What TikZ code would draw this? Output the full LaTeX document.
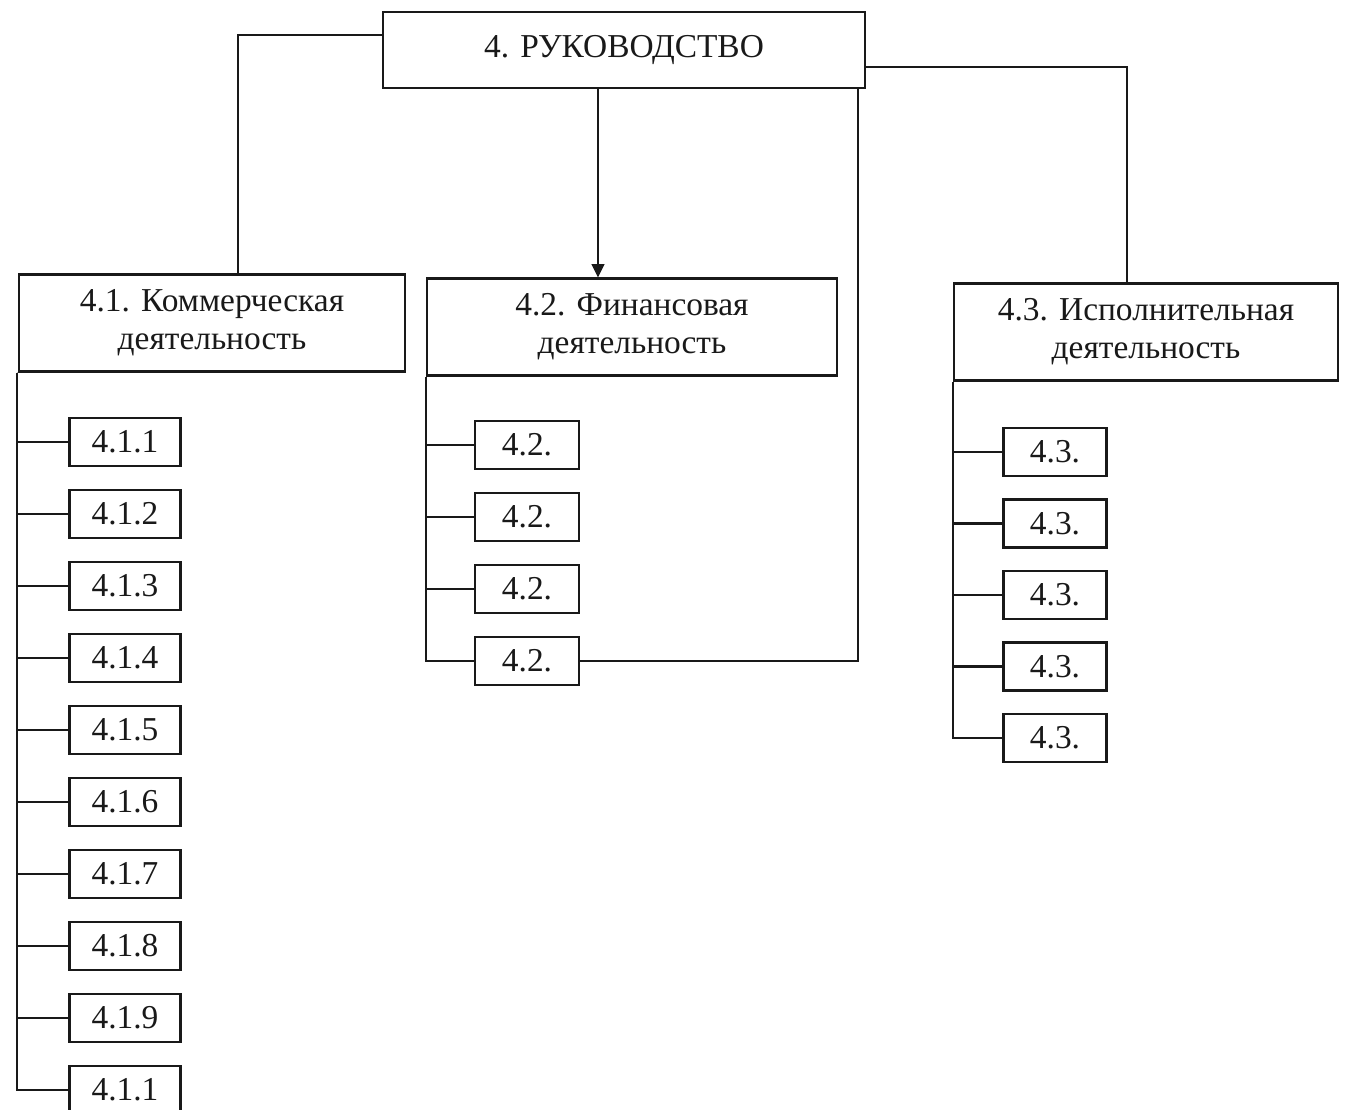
\documentclass[tikz,border=0pt]{standalone}
\usepackage{fontspec}
\setmainfont{Liberation Serif}
\usepackage{tikz}
\usetikzlibrary{arrows.meta,positioning}
\definecolor{orgink}{RGB}{25,25,25}
\tikzset{
  orgtext/.style ={font=\fontsize{9.5}{10.8}\selectfont, text=orgink},
  orgtop/.style  ={rectangle, draw=orgink, line width=0.6pt, orgtext,
                   minimum width=4.82cm, minimum height=0.76cm, inner sep=0pt},
  orgdept/.style ={rectangle, draw=orgink, line width=0.6pt, orgtext, align=center,
                   minimum height=0.97cm, inner sep=0pt},
  orgitem/.style ={rectangle, draw=orgink, line width=0.6pt, orgtext,
                   minimum height=0.48cm, inner sep=0pt},
  orgline/.style ={line width=0.6pt, orgink},
  orgarrow/.style={orgline, -{Triangle[length=3.8pt, width=3.6pt]}},
}
\begin{document}
\begin{tikzpicture}[x=0.01cm, y=-0.01cm]
  \clip (0,0) rectangle (1346,1110);
  % top and the three departments
  \node[orgtop] (top) at (624,50) {4. РУКОВОДСТВО};
  \node[orgdept, minimum width=3.85cm] (d1) at (212,323) {4.1. Коммерческая\\деятельность};
  \node[orgdept, minimum width=4.09cm] (d2) at (632,327) {4.2. Финансовая\\деятельность};
  \node[orgdept, minimum width=3.83cm] (d3) at (1146,332) {4.3. Исполнительная\\деятельность};
  \coordinate (jl) at (238,35);
  \coordinate (jr) at (1127,67);
  \coordinate (jm) at (598,0);
  \coordinate (jb) at (858,0);
  \draw[orgline] (jl -| top.west) -| (jl |- d1.north);
  \draw[orgline] (jr -| top.east) -| (jr |- d3.north);
  \draw[orgarrow] (jm |- top.south) -- (jm |- d2.north);
  % items of 4.1
  \coordinate (v1) at (17,0);
  \foreach \i/\lab in {1/4.1.1,2/4.1.2,3/4.1.3,4/4.1.4,5/4.1.5,
                       6/4.1.6,7/4.1.7,8/4.1.8,9/4.1.9,10/4.1.1}{
    \node[orgitem, minimum width=1.11cm] (d1i\i) at (125,370+72*\i) {\lab};
    \draw[orgline] (v1 |- d1.south) |- (d1i\i.west);
  }
  % items of 4.2
  \coordinate (v2) at (426,0);
  \foreach \i in {1,...,4}{
    \node[orgitem, minimum width=1.04cm] (d2i\i) at (527,373+72*\i) {4.2.};
    \draw[orgline] (v2 |- d2.south) |- (d2i\i.west);
  }
  \draw[orgline] (d2i4.east) -| (jb |- top.south);
  % items of 4.3
  \coordinate (v3) at (953,0);
  \foreach \i in {1,...,5}{
    \node[orgitem, minimum width=1.03cm] (d3i\i) at (1055,380.5+71.5*\i) {4.3.};
    \draw[orgline] (v3 |- d3.south) |- (d3i\i.west);
  }
\end{tikzpicture}
\end{document}
